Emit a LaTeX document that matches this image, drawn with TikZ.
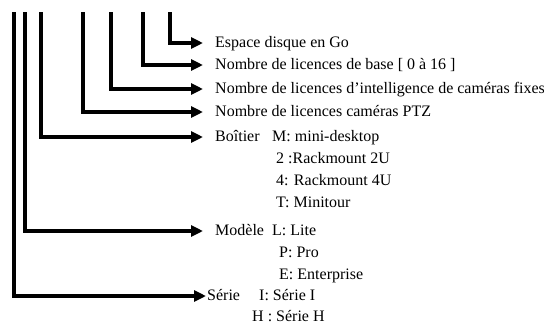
\documentclass[tikz,border=0pt]{standalone}
\usepackage{fontspec}
\setmainfont{Liberation Serif}
\usetikzlibrary{arrows.meta}

\begin{document}
\begin{tikzpicture}[x=1pt,y=-1pt,
        feed/.style={line width=3.2pt,-{Triangle[length=12pt,width=11pt]},shorten >=12pt},
        lbl/.style={anchor=west,inner sep=0pt,text height=11pt,text depth=3pt,font=\fontsize{16}{19}\selectfont}
      ]
      \useasboundingbox (0,0) rectangle (544,325);
      % fields
      \node[lbl] (espace) at (215,43) {Espace disque en Go};
      \node[lbl] (base) at (215,65) {Nombre de licences de base [ 0 à 16 ]};
      \node[lbl] (intel) at (215,89) {Nombre de licences d’intelligence de caméras fixes};
      \node[lbl] (ptz) at (215,112) {Nombre de licences caméras PTZ};
      \node[lbl] (boitier) at (215,137) {Boîtier};
      \node[lbl] (modele) at (215,231) {Modèle};
      \node[lbl] (serie) at (207,296) {Série};
      % values
      \node[lbl] (boitierM) at (272,137) {M: mini-desktop};
      \node[lbl] (boitier2) at (276,159) {2 :Rackmount 2U};
      \node[lbl] (boitier4) at (276,181) {4: Rackmount 4U};
      \node[lbl] (boitierT) at (276,203) {T: Minitour};
      \node[lbl] (modeleL) at (272,231) {L: Lite};
      \node[lbl] (modeleP) at (279,253) {P: Pro};
      \node[lbl] (modeleE) at (279,275) {E: Enterprise};
      \node[lbl] (serieI) at (259,296) {I: Série I};
      \node[lbl] (serieH) at (252,317) {H : Série H};
      % top ends
      \coordinate (tespace) at (170,12);
      \coordinate (tbase) at (143,12);
      \coordinate (tintel) at (111,12);
      \coordinate (tptz) at (83,12);
      \coordinate (tboitier) at (41,12);
      \coordinate (tmodele) at (25,12);
      \coordinate (tserie) at (14,12);
      \draw[feed] (tespace) |- (espace);
      \draw[feed] (tbase) |- (base);
      \draw[feed] (tintel) |- (intel);
      \draw[feed] (tptz) |- (ptz);
      \draw[feed] (tboitier) |- (boitier);
      \draw[feed] (tmodele) |- (modele);
      \draw[feed,shorten >=1pt] (tserie) |- (serie);
    \end{tikzpicture}
\end{document}
